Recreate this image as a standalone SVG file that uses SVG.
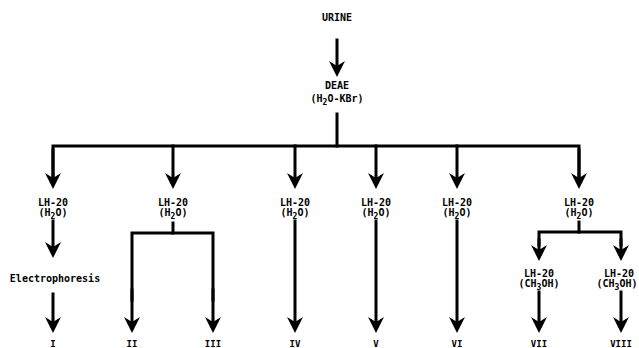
<svg xmlns="http://www.w3.org/2000/svg" width="639" height="348" viewBox="0 0 639 348">
<style>
text{font-family:"DejaVu Sans Mono","Liberation Mono",monospace;font-weight:bold;font-size:10px;fill:#000;text-anchor:middle}
.sub{font-size:8px}
.num{font-size:9px}
.ln{fill:none;stroke:#000;stroke-width:3;stroke-linejoin:miter;stroke-linecap:square}
.ar{marker-end:url(#ah)}
</style>
<defs>
<marker id="ah" viewBox="-16 -9 17 18" refX="-8" refY="0" markerWidth="17" markerHeight="18" markerUnits="userSpaceOnUse" orient="auto">
<path d="M0,0 L-16,-8 L-11,0 L-16,8 Z" fill="#000"/>
</marker>
</defs>
<rect width="639" height="348" fill="#fff"/>
<g id="urine"><text x="337" y="21">URINE</text></g>
<g id="deae"><text x="337" y="89">DEAE</text><text x="337" y="102">(H<tspan class="sub" dy="3">2</tspan><tspan dy="-3">O-KBr)</tspan></text></g>
<g id="lh1"><text x="53" y="206">LH-20</text><text x="53" y="216">(H<tspan class="sub" dy="3">2</tspan><tspan dy="-3">O)</tspan></text></g>
<g id="electro"><text x="55" y="282">Electrophoresis</text></g>
<g id="lh2"><text x="173" y="206">LH-20</text><text x="173" y="216">(H<tspan class="sub" dy="3">2</tspan><tspan dy="-3">O)</tspan></text></g>
<g id="lh3"><text x="295" y="206">LH-20</text><text x="295" y="216">(H<tspan class="sub" dy="3">2</tspan><tspan dy="-3">O)</tspan></text></g>
<g id="lh4"><text x="376" y="206">LH-20</text><text x="376" y="216">(H<tspan class="sub" dy="3">2</tspan><tspan dy="-3">O)</tspan></text></g>
<g id="lh5"><text x="457" y="206">LH-20</text><text x="457" y="216">(H<tspan class="sub" dy="3">2</tspan><tspan dy="-3">O)</tspan></text></g>
<g id="lh6"><text x="579" y="206">LH-20</text><text x="579" y="216">(H<tspan class="sub" dy="3">2</tspan><tspan dy="-3">O)</tspan></text></g>
<g id="lh7"><text x="539" y="277">LH-20</text><text x="539" y="287">(CH<tspan class="sub" dy="3">3</tspan><tspan dy="-3">OH)</tspan></text></g>
<g id="lh8"><text x="619" y="277">LH-20</text><text x="617" y="287">(CH<tspan class="sub" dy="3">3</tspan><tspan dy="-3">OH)</tspan></text></g>
<g id="f1"><text class="num" x="53" y="347">I</text></g>
<g id="f2"><text class="num" x="132" y="347">II</text></g>
<g id="f3"><text class="num" x="213" y="347">III</text></g>
<g id="f4"><text class="num" x="295" y="347">IV</text></g>
<g id="f5"><text class="num" x="376" y="347">V</text></g>
<g id="f6"><text class="num" x="457" y="347">VI</text></g>
<g id="f7"><text class="num" x="539" y="347">VII</text></g>
<g id="f8"><text class="num" x="621" y="347">VIII</text></g>
<g id="connectors">
<line class="ln ar" x1="337" y1="40" x2="337" y2="69"/>
<line class="ln" x1="337" y1="114" x2="337" y2="146"/>
<polyline class="ln" points="53,180 53,146 579,146 579,180"/>
<line class="ln ar" x1="53" y1="150" x2="53" y2="181"/>
<line class="ln ar" x1="173" y1="146" x2="173" y2="181"/>
<line class="ln ar" x1="295" y1="146" x2="295" y2="181"/>
<line class="ln ar" x1="376" y1="146" x2="376" y2="181"/>
<line class="ln ar" x1="457" y1="146" x2="457" y2="181"/>
<line class="ln ar" x1="579" y1="150" x2="579" y2="181"/>
<line class="ln ar" x1="53" y1="221" x2="53" y2="250"/>
<line class="ln ar" x1="53" y1="294" x2="53" y2="325"/>
<line class="ln" x1="173" y1="223" x2="173" y2="233"/>
<polyline class="ln" points="132,300 132,233 213,233 213,300"/>
<line class="ln ar" x1="132" y1="290" x2="132" y2="325"/>
<line class="ln ar" x1="213" y1="290" x2="213" y2="325"/>
<line class="ln ar" x1="295" y1="221" x2="295" y2="325"/>
<line class="ln ar" x1="376" y1="221" x2="376" y2="325"/>
<line class="ln ar" x1="457" y1="221" x2="457" y2="325"/>
<line class="ln" x1="579" y1="222" x2="579" y2="232"/>
<polyline class="ln" points="539,245 539,232 621,232 621,245"/>
<line class="ln ar" x1="539" y1="240" x2="539" y2="253"/>
<line class="ln ar" x1="621" y1="240" x2="621" y2="253"/>
<line class="ln ar" x1="539" y1="292" x2="539" y2="325"/>
<line class="ln ar" x1="621" y1="292" x2="621" y2="325"/>
</g>
</svg>
